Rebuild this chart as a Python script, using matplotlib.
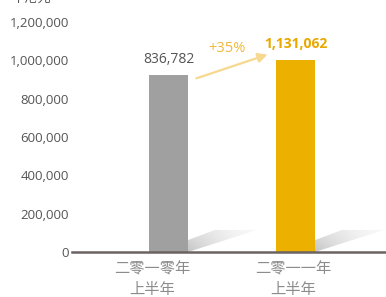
import numpy as np
import matplotlib
matplotlib.use("Agg")
import matplotlib.pyplot as plt
from matplotlib.patches import Polygon
from matplotlib.ticker import FuncFormatter

plt.rcParams["font.family"] = ["Open Sans", "Noto Sans CJK TC", "DejaVu Sans"]

# data
periods = ["二零一零年\n上半年", "二零一一年\n上半年"]
bar_heights = [925000, 1003000]          # drawn bar heights
value_labels = ["836,782", "1,131,062"]  # printed values
growth = "+35%"
unit = "千港元"
y_ticks = [0, 200000, 400000, 600000, 800000, 1000000, 1200000]
bar_colors = ["#a0a0a0", "#ebb000"]

fig = plt.figure(figsize=(3.86, 2.97), dpi=100)
ax = fig.add_axes((0.1865, 0.1515, 0.8135, 0.7745))

x = np.arange(len(periods))
w = 0.307
ax.bar(x, bar_heights, width=w, color=bar_colors, zorder=3)

# soft floor shadow to the right of each bar
gx, gy = np.meshgrid(np.linspace(0, 1, 128), np.linspace(0, 1, 64))
grad = 0.30 * (1 - gx) * (0.6 + 0.4 * gy) + 0.04
for xi in x:
    x0 = xi + w / 2
    pts = [(x0, 0), (x0, 62000), (xi + 0.366, 115000), (xi + 0.697, 115000)]
    poly = Polygon(pts, closed=True, facecolor="none", edgecolor="none")
    ax.add_patch(poly)
    im = ax.imshow(grad, cmap="Greys", vmin=0, vmax=1, aspect="auto",
                   extent=(x0, xi + 0.697, 0, 115000), zorder=2, interpolation="bilinear")
    im.set_clip_path(poly)

ax.set_xlim(-0.76, 1.713)
ax.set_ylim(0, 1200000)

# value labels
ax.text(x[0], bar_heights[0] + 40000, value_labels[0], ha="center", va="bottom",
        fontsize=10, color="#555555")
ax.text(x[1], bar_heights[1] + 45000, value_labels[1], ha="center", va="bottom",
        fontsize=10, fontweight="bold", color="#e8a800")

# growth arrow
ax.annotate("", xy=(0.78, 1030000), xytext=(0.22, 906000),
            arrowprops=dict(arrowstyle="-|>", color="#f6d88e", lw=1.6,
                            mutation_scale=14, shrinkA=0, shrinkB=0))
ax.text(0.46, 1060000, growth, ha="center", va="center", fontsize=10.5, color="#f0b93a")

ax.yaxis.set_major_formatter(FuncFormatter(lambda v, p: f"{int(v):,}"))
ax.set_yticks(y_ticks)
ax.tick_params(axis="y", length=0, pad=2, labelsize=9.5, labelcolor="#555555")

ax.set_xticks(x + np.array([-0.13, -0.02]))
ax.set_xticklabels(periods, fontsize=11, color="#8c8c8c", linespacing=1.25,
                   family=["Noto Sans CJK TC", "DejaVu Sans"], fontweight="light")
ax.tick_params(axis="x", length=0, pad=6)

for s in ["top", "right", "left"]:
    ax.spines[s].set_visible(False)
ax.spines["bottom"].set_color("#6b6262")
ax.spines["bottom"].set_linewidth(1.8)
ax.spines["bottom"].set_zorder(4)

fig.text(0.03, 1.005, unit, fontsize=9.5, color="#555555", va="center")

fig.savefig("out.png", dpi=100)
